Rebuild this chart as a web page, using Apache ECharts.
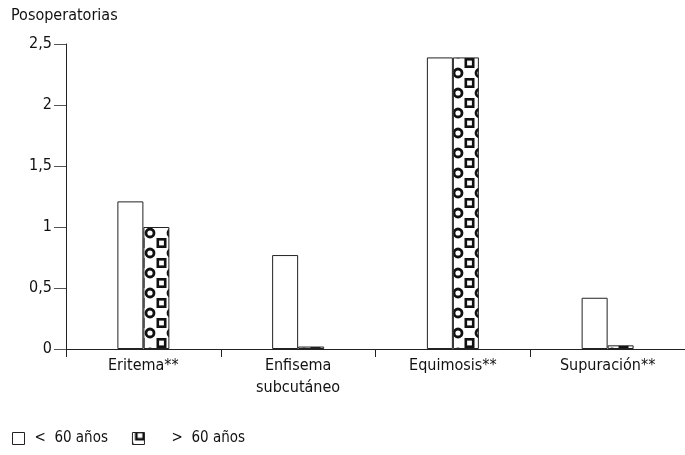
<!DOCTYPE html>
<html><head><meta charset="utf-8">
<script src="https://cdn.jsdelivr.net/npm/echarts@6/dist/echarts.min.js"></script>
<style>html,body{margin:0;padding:0;background:#fff}#c{width:685px;height:455px}</style>
</head><body><div id="c"></div>
<script>
const categories = ['Eritema**', 'Enfisema\nsubcutáneo', 'Equimosis**', 'Supuración**'];
const under60 = [1.21, 0.77, 2.39, 0.42];
const over60 = [1.0, 0.02, 2.39, 0.03];
const seriesNames = ['< 60 años', '> 60 años'];
const yTicks = { min: 0, max: 2.5, interval: 0.5 };

const FONT = "'DejaVu Sans', sans-serif";
const FW = 'condensed';

function makePattern() {
  const c = document.createElement('canvas');
  c.width = 22; c.height = 20;
  const g = c.getContext('2d');
  g.fillStyle = '#fff'; g.fillRect(0, 0, 22, 20);
  g.strokeStyle = '#111'; g.lineWidth = 2.8;
  [[18, 13], [-4, 13]].forEach(([x, y]) => { g.beginPath(); g.arc(x, y, 4, 0, Math.PI * 2); g.stroke(); });
  g.lineWidth = 2.6;
  [-20, 0, 20].forEach(dy => g.strokeRect(3.8, dy - 0.7, 7.4, 7.4));
  return c;
}
const pattern = { image: makePattern(), repeat: 'repeat' };

const chart = echarts.init(document.getElementById('c'));
const txt = { fontFamily: FONT, fontWeight: FW, fontSize: 16, color: '#111' };
chart.setOption({
  animation: false,
  textStyle: { fontFamily: FONT, fontWeight: FW },
  grid: { left: 66, right: 0, top: 44, bottom: 106, containLabel: false },
  title: { text: 'Posoperatorias', left: 11, top: 8, padding: 0, textStyle: Object.assign({}, txt) },
  legend: {
    left: 12, top: 431, padding: 0, itemWidth: 12, itemHeight: 12, itemGap: 24,
    formatter: n => n === seriesNames[1] ? '    >  60 años' : '<  60 años',
    textStyle: Object.assign({}, txt, { fontSize: 15, padding: [0, 0, 0, 5] }),
    data: [
      { name: seriesNames[0], icon: 'rect', itemStyle: { color: '#fff', borderColor: '#222', borderWidth: 1 } },
      { name: seriesNames[1], icon: 'rect', itemStyle: { color: pattern, borderColor: '#222', borderWidth: 1 } }
    ]
  },
  xAxis: {
    type: 'category', data: categories,
    axisLine: { lineStyle: { color: '#222', width: 1 } },
    axisTick: { show: true, length: 8, lineStyle: { color: '#222' } },
    axisLabel: Object.assign({}, txt, { lineHeight: 22, margin: 6 })
  },
  yAxis: {
    type: 'value', min: yTicks.min, max: yTicks.max, interval: yTicks.interval,
    splitLine: { show: false },
    axisLine: { show: true, lineStyle: { color: '#222', width: 1 } },
    axisTick: { show: true, length: 12, lineStyle: { color: '#555' } },
    axisLabel: Object.assign({}, txt, { margin: 14, formatter: v => String(v).replace('.', ',') })
  },
  series: [
    { name: seriesNames[0], type: 'bar', data: under60, barWidth: 26, barGap: '0%',
      itemStyle: { color: '#fff', borderColor: '#222', borderWidth: 1 } },
    { name: seriesNames[1], type: 'bar', data: over60, barWidth: 26,
      itemStyle: { color: pattern, borderColor: '#222', borderWidth: 1 } }
  ]
});
</script></body></html>
